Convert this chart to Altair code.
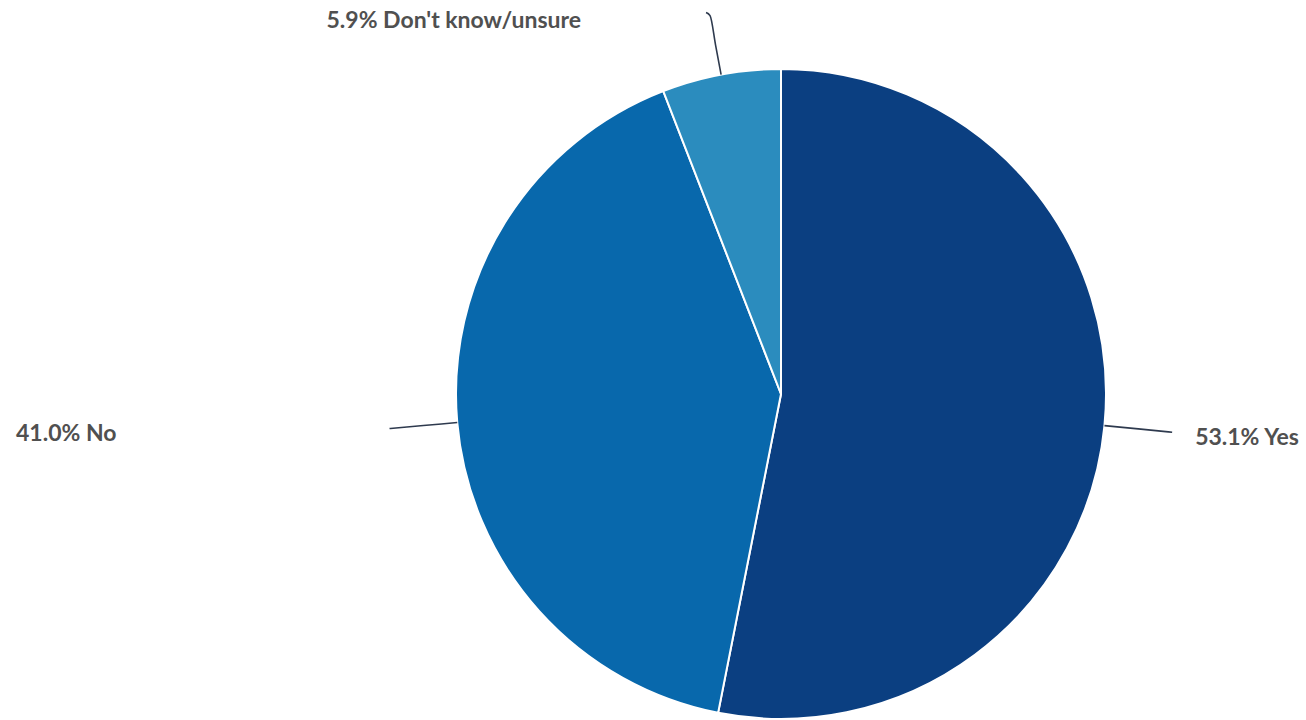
import math
import altair as alt
import pandas as pd

# ---- data ----
categories = ["Yes", "No", "Don't know/unsure"]
values = [53.1, 41.0, 5.9]
colors = ["#0b3f81", "#0868ac", "#2b8cbe"]

# ---- layout / style constants ----
W, H = 1306, 720
CX, CY, R = 781, 394, 325
LINE_END_R = 393
FONT = "Lato"
FSIZE = 23

total = sum(values)
df = pd.DataFrame({"cat": categories, "val": values, "order": list(range(len(values)))})
df["label"] = [f"{v:.1f}% {c}" for c, v in zip(categories, values)]

# leader lines and label anchors derived from slice mid-angles
line_rows, label_rows = [], []
cum = 0.0
for c, v, lab in zip(categories, values, df["label"]):
    mid = (cum + v / 2) / total * 2 * math.pi
    cum += v
    s = math.sin(mid)
    end_r = LINE_END_R if abs(s) > 0.5 else LINE_END_R - 8
    pts = []
    for rr in [R, (R + end_r) / 2, end_r]:
        pts.append((CX + rr * math.sin(mid), CY - rr * math.cos(mid)))
    if abs(s) <= 0.5:
        # small hook at the top end of the connector
        ex, ey = pts[-1]
        pts.append((ex - 4, ey - 3))
    for i, (x, y) in enumerate(pts):
        line_rows.append({"cat": c, "i": i, "x": x, "y": y})
    ex, ey = pts[-1]
    if s > 0.5:
        label_rows.append({"label": lab, "x": ex + 23, "y": ey + 6, "align": "left"})
    elif s < -0.5:
        label_rows.append({"label": lab, "x": 16, "y": ey + 5, "align": "left"})
    else:
        label_rows.append({"label": lab, "x": ex - 125, "y": ey + 8, "align": "right"})

lines_df = pd.DataFrame(line_rows)
labels_df = pd.DataFrame(label_rows)

xs = alt.Scale(domain=[0, W], range=[0, W])
ys = alt.Scale(domain=[0, H], range=[0, H])

pie = alt.Chart(df).mark_arc(outerRadius=R, stroke="white", strokeWidth=2).encode(
    theta=alt.Theta("val:Q", stack=True),
    order=alt.Order("order:Q"),
    color=alt.Color("cat:N", scale=alt.Scale(domain=categories, range=colors), legend=None),
    x=alt.value(CX),
    y=alt.value(CY),
)

lines = alt.Chart(lines_df).mark_line(color="#2e3a4e", strokeWidth=1.6, interpolate="monotone").encode(
    x=alt.X("x:Q", scale=xs, axis=None),
    y=alt.Y("y:Q", scale=ys, axis=None),
    detail="cat:N",
    order="i:Q",
)

def label_layer(align):
    return alt.Chart(labels_df[labels_df["align"] == align]).mark_text(
        align=align, baseline="middle", font=FONT, fontSize=FSIZE, fontWeight="bold", color="#505050"
    ).encode(
        x=alt.X("x:Q", scale=xs, axis=None),
        y=alt.Y("y:Q", scale=ys, axis=None),
        text="label:N",
    )

chart = alt.layer(pie, lines, label_layer("left"), label_layer("right")).properties(
    width=W, height=H, padding=0, autosize=alt.AutoSizeParams(type="none")
).configure_view(stroke=None)

chart.save("out.html", embed_options={"renderer": "svg", "actions": False})
